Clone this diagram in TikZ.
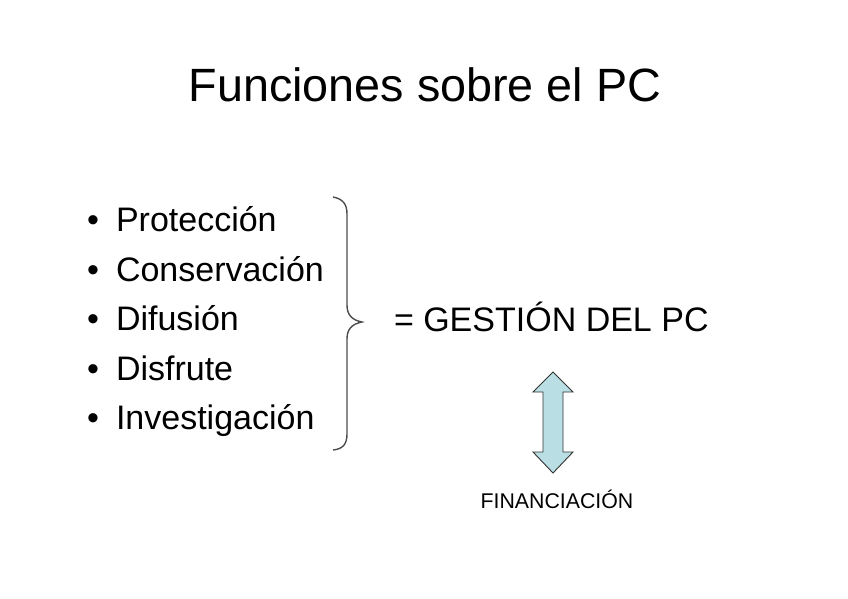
\documentclass[tikz,border=0pt]{standalone}
\usepackage{fontspec}
\setmainfont{Liberation Sans}
\begin{document}
\begin{tikzpicture}[x=1pt,y=-1pt,
  txt/.style={anchor=base west,inner sep=0pt,outer sep=0pt},
  item/.style={txt,font=\fontsize{34}{40}\selectfont},
  bul/.style={txt,font=\fontsize{34}{40}\selectfont}]
\useasboundingbox (0,0) rectangle (848,599);
\node[txt,font=\fontsize{46.7}{56}\selectfont,anchor=base] (title) at (425,101.7) {Funciones sobre el PC};
\foreach \t/\y/\n in {Protección/231.7/a,Conservación/281.2/b,Difusión/330.7/c,Disfrute/380.2/d,Investigación/429.7/e}{
  \node[bul] (b\n) at (87,\y) {•};
  \node[item] (i\n) at (116,\y) {\t};
}
\draw[draw=black!70,line width=1.4pt]
  (333,197) .. controls (343,199) and (347,204) .. (347,214)
  -- (347,305) .. controls (347,315) and (352,320) .. (362,322)
  .. controls (352,324) and (347,329) .. (347,339)
  -- (347,434) .. controls (347,444) and (343,449) .. (333,450);
\node[item] (g) at (394,331.7) {= GESTIÓN DEL PC};
\draw[fill={rgb,255:red,185;green,223;blue,228},draw=black!80,line width=0.9pt]
  (553,372) -- (573,392) -- (563,392) -- (563,452) -- (573,452) -- (553,473)
  -- (533,452) -- (543,452) -- (543,392) -- (533,392) -- cycle;
\node[txt,font=\fontsize{21.3}{26}\selectfont,anchor=base] (f) at (557,508) {FINANCIACIÓN};
\end{tikzpicture}
\end{document}
